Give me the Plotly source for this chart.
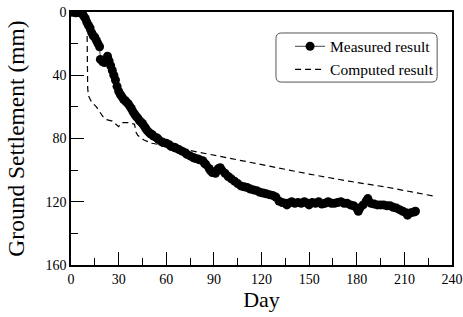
import plotly.graph_objects as go

# Measured settlement (day, mm)
meas_day = [0, 1, 2, 3, 4, 5, 6, 7, 8, 9, 10, 11, 12, 13, 14, 15, 16, 17, 18, 18.5,
            20, 21, 22, 23, 24, 25, 26, 27, 28, 29, 30, 31, 32, 33, 34, 35, 36, 37, 38, 39,
            40, 41, 42, 43, 44, 45, 46, 47, 48, 49, 50, 51, 52, 54, 55, 57, 58, 60, 62, 63,
            65, 66, 68, 70, 72, 73, 75, 77, 78, 80, 81, 83, 84, 85, 87, 88, 89, 91, 92, 93,
            94, 95, 97, 99, 101, 103, 105, 107, 109, 111, 113, 115, 117, 119, 121, 123, 125, 127, 129, 131,
            133, 135, 136, 137, 139, 141, 143, 145, 147, 149, 150, 152, 154, 156, 158, 160, 162, 164, 166, 168,
            170, 172, 174, 176, 178, 180, 181, 182, 184, 186, 187, 189, 191, 193, 195, 197, 199, 201, 203, 205,
            207, 209, 211, 212, 214, 216, 217]
meas_val = [0, 0, 0, 0.5, 0, 0, 0.5, 1, 2.5, 4, 6.5, 8.5, 10, 13, 15, 16, 18, 20, 22, 30,
            31.5, 32, 30, 28, 31, 34, 37, 40, 43, 47, 50, 52, 53.5, 55, 56, 57, 58, 59.5, 61, 63,
            64.5, 66, 67, 68.5, 69.5, 70.5, 72, 73.5, 75, 76, 77, 77.5, 78.5, 79.5, 80.5, 82, 82.5, 83, 84, 85,
            85.5, 86, 87, 88, 89, 90, 91, 92, 92.5, 93, 93.5, 94, 95.5, 96.5, 99, 100.5, 101.5, 102, 100, 99,
            98.5, 100, 102, 104, 105.5, 107, 108.5, 110, 110.5, 111, 112, 112.5, 113, 114, 114.5, 115, 115.5, 116, 117, 119.5,
            120.5, 121, 122, 121, 120, 121, 120.5, 121, 120, 121, 122, 120.5, 121, 120, 121.5, 121, 120, 121, 121, 120.5,
            120, 121, 121, 122, 122.5, 124, 126, 124, 122, 119.5, 118, 121, 121.5, 122, 122, 122, 122.5, 122.5, 123.5, 124,
            125, 126, 127, 128.5, 127, 126.5, 126]

# Computed settlement (day, mm)
comp_day = [0, 10, 10.5, 11, 13, 16, 18, 20, 22, 26, 30, 32, 36, 40, 41, 42, 46, 51, 59,
            75, 100, 125, 150, 175, 200, 229]
comp_val = [0, 0, 48, 53, 57, 60, 63, 66, 68, 69, 72.5, 70, 70, 71, 76, 78, 81, 83, 84.5,
            87.5, 92.5, 97.5, 102.5, 107, 111, 116.5]

x_ticks = [0, 30, 60, 90, 120, 150, 180, 210, 240]
y_ticks = [0, 40, 80, 120, 160]

FONT = "Liberation Serif, Times New Roman, serif"

fig = go.Figure()
fig.add_trace(go.Scatter(
    x=meas_day, y=meas_val, mode="lines+markers", name="Measured result",
    line=dict(color="#444444", width=1),
    marker=dict(color="black", size=9, symbol="circle"),
))
fig.add_trace(go.Scatter(
    x=comp_day, y=comp_val, mode="lines", name="Computed result",
    line=dict(color="black", width=1.2, dash="6px,4px"),
))

# rounded legend frame (paper coords)
x0, x1, y0, y1 = 0.538, 0.961, 0.723, 0.917
rx, ry = 0.014, 0.022
path = (f"M {x0+rx},{y0} L {x1-rx},{y0} Q {x1},{y0} {x1},{y0+ry} "
        f"L {x1},{y1-ry} Q {x1},{y1} {x1-rx},{y1} L {x0+rx},{y1} "
        f"Q {x0},{y1} {x0},{y1-ry} L {x0},{y0+ry} Q {x0},{y0} {x0+rx},{y0} Z")
fig.add_shape(type="path", path=path, xref="paper", yref="paper",
              line=dict(color="#555555", width=1))

fig.update_layout(
    template="none",
    width=463, height=317,
    margin=dict(l=71, r=11, t=12, b=52, autoexpand=False),
    paper_bgcolor="white", plot_bgcolor="white",
    font=dict(family=FONT, color="black", size=14),
    showlegend=True,
    legend=dict(x=0.575, y=0.93, xanchor="left", yanchor="top",
                bgcolor="rgba(0,0,0,0)", borderwidth=0,
                font=dict(family=FONT, size=15.5), tracegroupgap=0),
)
fig.update_xaxes(
    automargin=False,
    range=[0, 240], tickvals=x_ticks, ticktext=[str(v) for v in x_ticks],
    ticks="inside", ticklen=13, tickwidth=1.3, tickcolor="black",
    minor=dict(dtick=15, ticks="inside", ticklen=7, tickwidth=1.3, tickcolor="black"),
    showline=True, linecolor="black", linewidth=1.5, mirror=True,
    showgrid=False, zeroline=False,
    title=dict(text="Day", font=dict(family=FONT, size=22), standoff=4),
    tickfont=dict(family=FONT, size=14),
)
fig.update_yaxes(
    automargin=False,
    range=[160, 0], tickvals=y_ticks, ticktext=[str(v) for v in y_ticks],
    ticks="inside", ticklen=13, tickwidth=1.3, tickcolor="black",
    minor=dict(dtick=20, ticks="inside", ticklen=7, tickwidth=1.3, tickcolor="black"),
    showline=True, linecolor="black", linewidth=1.5, mirror=True,
    showgrid=False, zeroline=False,
    title=dict(text="Ground Settlement (mm)", font=dict(family=FONT, size=23.5), standoff=14),
    tickfont=dict(family=FONT, size=14),
)

fig.write_html("out.html", post_script="document.body.style.margin='0px';",
               config={"displayModeBar": False})
